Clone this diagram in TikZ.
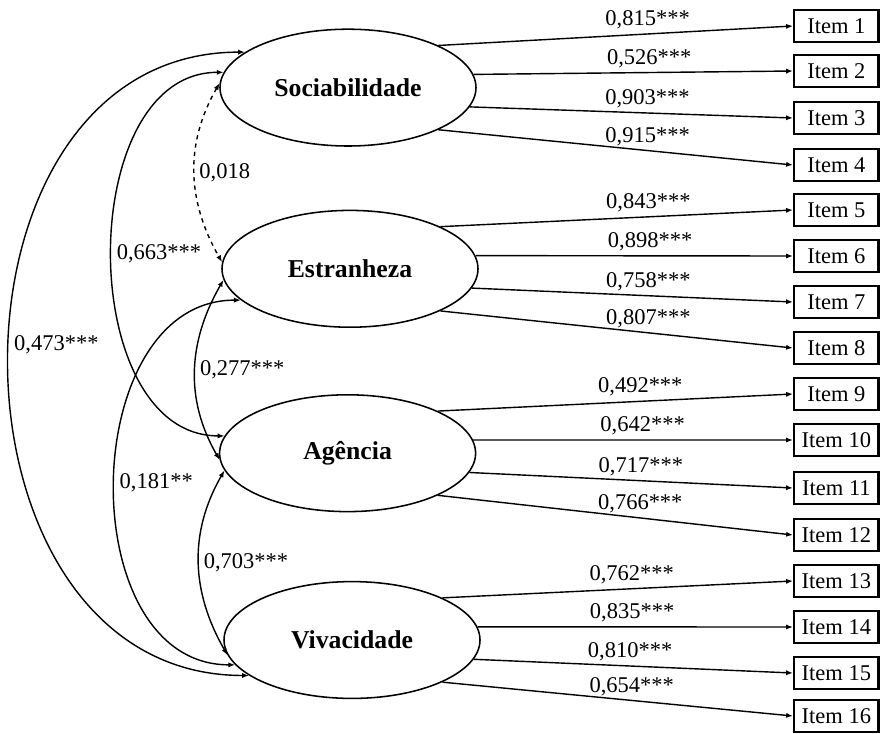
\documentclass[tikz,border=0pt]{standalone}
\usepackage{fontspec}
\setmainfont{Liberation Serif}
\usetikzlibrary{shapes.geometric, arrows.meta}

\begin{document}
\begin{tikzpicture}[
        factor/.style = {draw, ellipse, line width = 1.1pt, minimum width = 6.4cm, minimum height = 2.92cm, inner sep = 0pt, font = \fontsize{18.3}{20}\selectfont\bfseries},
        item/.style = {draw, rectangle, line width = 1.8pt, minimum width = 2.11cm, minimum height = 0.81cm, inner sep = 0pt, font = \fontsize{16}{18}\selectfont},
        load/.style = {-{Latex[length = 1.7mm, width = 1.3mm]}, line width = 1pt},
        cov/.style = {{Latex[length = 1.7mm, width = 1.3mm]}-{Latex[length = 1.7mm, width = 1.3mm]}, line width = 1pt},
        coef/.style = {font = \fontsize{16}{18}\selectfont, inner sep = 3pt}
    ]
    \useasboundingbox (0, 0) rectangle (22.025, -18.325);
    \draw
        (8.7, -2.19) node (soc) [factor] {Sociabilidade}
        (8.75, -6.72) node (est) [factor] {Estranheza}
        (8.69, -11.33) node (ag) [factor] {Agência}
        (8.8, -16.0) node (viv) [factor] {Vivacidade}

        (20.91, -0.65) node (i1) [item] {Item 1}
        (20.91, -1.775) node (i2) [item] {Item 2}
        (20.91, -2.95) node (i3) [item] {Item 3}
        (20.91, -4.125) node (i4) [item] {Item 4}
        (20.91, -5.25) node (i5) [item] {Item 5}
        (20.91, -6.4) node (i6) [item] {Item 6}
        (20.91, -7.55) node (i7) [item] {Item 7}
        (20.91, -8.7) node (i8) [item] {Item 8}
        (20.91, -9.85) node (i9) [item] {Item 9}
        (20.91, -11.0) node (i10) [item] {Item 10}
        (20.91, -12.2) node (i11) [item] {Item 11}
        (20.91, -13.375) node (i12) [item] {Item 12}
        (20.91, -14.525) node (i13) [item] {Item 13}
        (20.91, -15.675) node (i14) [item] {Item 14}
        (20.91, -16.825) node (i15) [item] {Item 15}
        (20.91, -17.9) node (i16) [item] {Item 16}

        % loadings
        (soc.25) edge [load] node [coef, above, pos = 0.59] {0,815***} (i1.west)
        (soc.6) edge [load] node [coef, above, pos = 0.55] {0,526***} (i2.west)
        (soc.-9) edge [load] node [coef, above, pos = 0.55] {0,903***} (i3.west)
        (soc.-25) edge [load] node [coef, above, pos = 0.59] {0,915***} (i4.west)
        (est.25) edge [load] node [coef, above, pos = 0.59] {0,843***} (i5.west)
        (est.6) edge [load] node [coef, above, pos = 0.55] {0,898***} (i6.west)
        (est.-9) edge [load] node [coef, above, pos = 0.55] {0,758***} (i7.west)
        (est.-25) edge [load] node [coef, above, pos = 0.59] {0,807***} (i8.west)
        (ag.25) edge [load] node [coef, above, pos = 0.57] {0,492***} (i9.west)
        (ag.6) edge [load] node [coef, above, pos = 0.53] {0,642***} (i10.west)
        (ag.-9) edge [load] node [coef, above, pos = 0.53] {0,717***} (i11.west)
        (ag.-25) edge [load] node [coef, above, pos = 0.57] {0,766***} (i12.west)
        (viv.25) edge [load] node [coef, above, pos = 0.54] {0,762***} (i13.west)
        (viv.6) edge [load] node [coef, above, pos = 0.49] {0,835***} (i14.west)
        (viv.-9) edge [load] node [coef, above, pos = 0.49] {0,810***} (i15.west)
        (viv.-25) edge [load] node [coef, above, pos = 0.54] {0,654***} (i16.west)

        % covariances
        (soc.161) edge [cov, out = 180, in = 180, looseness = 1.3] node [coef, right, pos = 0.48] {0,473***} (viv.199)
        (soc.173) edge [cov, out = 180, in = 180, looseness = 1.05] node [coef, right] {0,663***} (ag.172)
        (soc.178) edge [cov, dashed, out = 240, in = 120] node [coef, right] {0,018} (est.177)
        (est.185) edge [cov, out = 240, in = 120] node [coef, right] {0,277***} (ag.183)
        (est.196) edge [cov, out = 180, in = 180, looseness = 1.15] node [coef, right] {0,181**} (viv.192)
        (ag.188) edge [cov, out = 240, in = 120] node [coef, right] {0,703***} (viv.187)
    ;
\end{tikzpicture}
\end{document}
